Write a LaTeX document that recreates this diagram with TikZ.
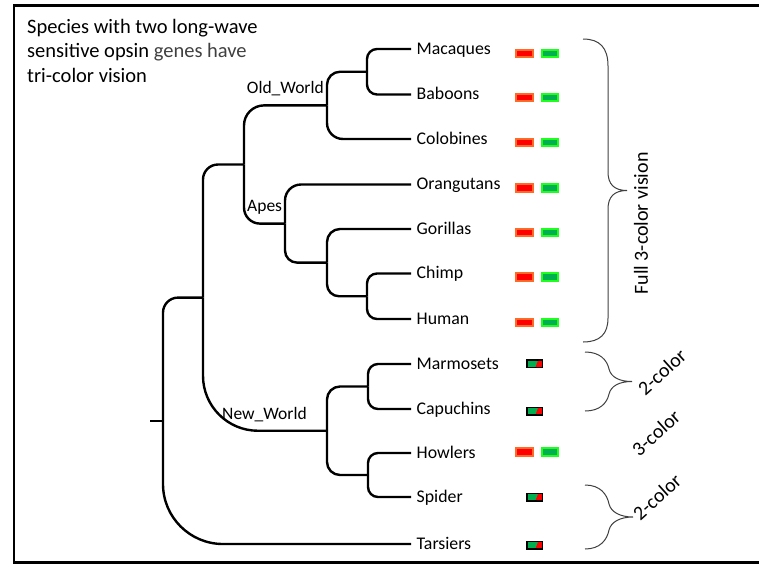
\documentclass[tikz,border=0pt]{standalone}
\usepackage{fontspec}
\setmainfont{Carlito}
\definecolor{opred}{HTML}{FF0000}
\definecolor{opredrim}{HTML}{FF6A28}
\definecolor{opgreen}{HTML}{00B050}
\definecolor{opgreenrim}{HTML}{1EFF1E}
\definecolor{bracegray}{HTML}{404040}
\definecolor{softtext}{HTML}{404040}
\begin{document}
\begin{tikzpicture}[x=1pt,y=-1pt,
  branch/.style={line width=2.4pt},
  leaf/.style={anchor=west, inner xsep=5.5pt, inner ysep=0pt,
    text height=13pt, text depth=3pt, font=\fontsize{17.8}{20}\selectfont},
  clade/.style={inner sep=0pt, font=\fontsize{17.5}{20}\selectfont},
  title/.style={anchor=base west, inner sep=0pt, font=\fontsize{20.5}{24}\selectfont},
  bracket/.style={line width=1pt, draw=bracegray},
  note/.style={inner sep=0pt, font=\fontsize{20}{24}\selectfont},
  redbox/.style={draw=opredrim, fill=opred, line width=2pt, inner sep=0pt,
    minimum width=17pt, minimum height=7.5pt},
  greenbox/.style={draw=opgreenrim, fill=opgreen, line width=2pt, inner sep=0pt,
    minimum width=16pt, minimum height=7.5pt},
  mixbox/.style={draw=black, fill=opgreen, line width=1.5pt, inner sep=0pt,
    minimum width=15.5pt, minimum height=7.5pt,
    path picture={\fill[opred] ([xshift=1pt]path picture bounding box.south)
      -- ([xshift=-4pt]path picture bounding box.north east)
      -- (path picture bounding box.north east)
      -- (path picture bounding box.south east) -- cycle;}}
]
\useasboundingbox (0,0) rectangle (759,565);

% outer frame
\draw[line width=2.5pt] (14,5.5) rectangle (775,562.5);

% caption
\node[title] (cap1) at (27,33) {Species with two long-wave};
\node[title] (cap2) at (27,57.5) {sensitive opsin {\color{softtext}genes have}};
\node[title] (cap3) at (27,82) {tri-color vision};

% leaves
\node[leaf] (Mac) at (411,49)    {Macaques};
\node[leaf] (Bab) at (411,94.5)  {Baboons};
\node[leaf] (Col) at (411,139)   {Colobines};
\node[leaf] (Ora) at (411,184.5) {Orangutans};
\node[leaf] (Gor) at (411,229)   {Gorillas};
\node[leaf] (Chi) at (411,273.5) {Chimp};
\node[leaf] (Hum) at (411,319)   {Human};
\node[leaf] (Mar) at (411,364)   {Marmosets};
\node[leaf] (Cap) at (411,409)   {Capuchins};
\node[leaf] (How) at (411,453)   {Howlers};
\node[leaf] (Spi) at (411,497)   {Spider};
\node[leaf] (Tar) at (411,544)   {Tarsiers};

% internal branching points
\coordinate (mb)   at (367,71.75);
\coordinate (ow)   at (327,105.4);
\coordinate (ch)   at (367,296.25);
\coordinate (gch)  at (327,262.6);
\coordinate (apes) at (285,223.6);
\coordinate (oa)   at (244,164.5);
\coordinate (mc)   at (368,386.5);
\coordinate (hs)   at (368,475);
\coordinate (nw)   at (327,430.75);
\coordinate (cat)  at (203,297.6);
\coordinate (root) at (163,420.8);
\coordinate (stub) at (150,420.8);

% tree
\draw[branch] (stub) -- (root);
\draw[branch, rounded corners=15pt] (root) |- (cat);
\draw[branch, rounded corners=60pt] (root) |- (Tar.west);
\draw[branch, rounded corners=15pt] (cat) |- (oa);
\draw[branch, rounded corners=55pt] (cat) |- (nw);
\draw[branch, rounded corners=20pt] (oa) |- (ow);
\draw[branch, rounded corners=16pt] (oa) |- (apes);
\draw[branch, rounded corners=13pt] (ow) |- (mb);
\draw[branch, rounded corners=16pt] (ow) |- (Col.west);
\draw[branch, rounded corners=10pt] (mb) |- (Mac.west);
\draw[branch, rounded corners=10pt] (mb) |- (Bab.west);
\draw[branch, rounded corners=16pt] (apes) |- (Ora.west);
\draw[branch, rounded corners=12pt] (apes) |- (gch);
\draw[branch, rounded corners=13pt] (gch) |- (Gor.west);
\draw[branch, rounded corners=12pt] (gch) |- (ch);
\draw[branch, rounded corners=10pt] (ch) |- (Chi.west);
\draw[branch, rounded corners=10pt] (ch) |- (Hum.west);
\draw[branch, rounded corners=13pt] (nw) |- (mc);
\draw[branch, rounded corners=13pt] (nw) |- (hs);
\draw[branch, rounded corners=10pt] (mc) |- (Mar.west);
\draw[branch, rounded corners=10pt] (mc) |- (Cap.west);
\draw[branch, rounded corners=10pt] (hs) |- (How.west);
\draw[branch, rounded corners=10pt] (hs) |- (Spi.west);

% clade names
\node[clade, anchor=east] (owlab)   at (324,89)  {Old\_World};
\node[clade, anchor=west] (apeslab) at (247,207) {Apes};
\node[clade, anchor=west] (nwlab)   at (222,415) {New\_World};

% opsin markers: two separate genes
\foreach \n/\y in {Mac/53.5, Bab/97.5, Col/142.5, Ora/188, Gor/232.5, Chi/277, Hum/322.5, How/452} {
  \node[redbox]   (\n R) at (524.5,\y) {};
  \node[greenbox] (\n G) at (550,\y)   {};
}
% opsin markers: single hybrid gene
\foreach \n/\y in {Mar/363.5, Cap/411, Spi/497, Tar/545} {
  \node[mixbox] (\n M) at (534.5,\y) {};
}

% brackets
\draw[bracket] (583,39) .. controls (600,39) and (608,48) .. (608,66)
  -- (608,172) .. controls (608,184) and (614,190.5) .. (627,190.5)
  .. controls (614,190.5) and (608,197) .. (608,209)
  -- (608,318) .. controls (608,334) and (600,342) .. (583,342);
\draw[bracket] (585,352) .. controls (600,352) and (607,360) .. (609,369)
  .. controls (611,377) and (619,381.5) .. (632,381.5)
  .. controls (619,381.5) and (611,386) .. (609,394)
  .. controls (607,403) and (600,411) .. (585,411);
\draw[bracket] (585,485) .. controls (600,485) and (607,494) .. (609,504)
  .. controls (611,512) and (620,517) .. (633,517)
  .. controls (620,517) and (611,522) .. (609,530)
  .. controls (607,540) and (600,549) .. (585,549);

% vision labels
\node[note, rotate=90] (full) at (641,223.5) {Full 3-color vision};
\node[note, rotate=42] (two1) at (662,372) {2-color};
\node[note, rotate=42] (three) at (656,433) {3-color};
\node[note, rotate=42] (two2) at (657,497) {2-color};
\end{tikzpicture}
\end{document}
